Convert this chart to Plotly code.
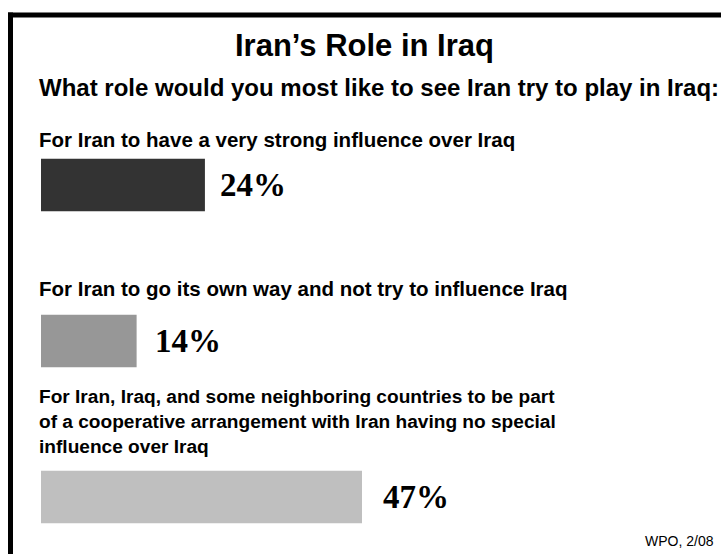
import plotly.graph_objects as go

# ---- data ----
categories = [
    "For Iran to have a very strong influence over Iraq",
    "For Iran to go its own way and not try to influence Iraq",
    "For Iran, Iraq, and some neighboring countries to be part<br>of a cooperative arrangement with Iran having no special<br>influence over Iraq",
]
values = [24, 14, 47]
value_labels = ["24%", "14%", "47%"]
title_text = "Iran\u2019s Role in Iraq"
subtitle_text = "What role would you most like to see Iran try to play in Iraq:"
source_text = "WPO, 2/08"

# ---- styles ----
bar_colors = ["#333333", "#979797", "#bfbfbf"]
W, H = 724, 554
FAM = "Liberation Sans, Arial, sans-serif"
label_sizes = [20.5, 20.5, 19.1]
pct_font = dict(family="Liberation Serif, Times New Roman, serif", size=33, color="#000000")
pct_xshift = [13, 16, 19]
cat_label_bottom_px = [153, 302, 459]  # pixel y of bottom of each label block

ids = list(range(len(categories)))

fig = go.Figure()
fig.add_trace(go.Bar(
    x=values, y=ids, orientation="h",
    marker=dict(color=bar_colors, line=dict(width=0)),
    width=0.335, hoverinfo="skip",
))

annotations = []
annotations.append(dict(text="<b>" + title_text + "</b>", xref="paper", yref="paper",
                        x=364 / W, y=1 - 45 / H, xanchor="center", yanchor="middle",
                        showarrow=False, font=dict(family=FAM, size=31, color="#000")))
annotations.append(dict(text="<b>" + subtitle_text + "</b>", xref="paper", yref="paper",
                        x=37 / W, y=1 - 87 / H, xanchor="left", yanchor="middle",
                        showarrow=False, font=dict(family=FAM, size=24, color="#000")))
annotations.append(dict(text=source_text, xref="paper", yref="paper",
                        x=716 / W, y=1 - 541 / H, xanchor="right", yanchor="middle",
                        showarrow=False, font=dict(family=FAM, size=14, color="#000")))
for i, c in enumerate(categories):
    annotations.append(dict(text="<b>" + c + "</b>", xref="paper", yref="paper",
                            x=37 / W, y=1 - cat_label_bottom_px[i] / H,
                            xanchor="left", yanchor="bottom", align="left",
                            showarrow=False,
                            font=dict(family=FAM, size=label_sizes[i], color="#000")))
for i, (v, t) in enumerate(zip(values, value_labels)):
    annotations.append(dict(text="<b>" + t + "</b>", x=v, y=i, xref="x", yref="y",
                            xanchor="left", yanchor="middle", xshift=pct_xshift[i],
                            showarrow=False, font=pct_font))

border = dict(color="#000000", width=5)
fig.update_layout(
    width=W, height=H,
    margin=dict(l=0, r=0, t=0, b=0),
    paper_bgcolor="#ffffff", plot_bgcolor="#ffffff",
    showlegend=False,
    xaxis=dict(domain=[41 / W, 1], range=[0, 100], visible=False, fixedrange=True),
    yaxis=dict(range=[2 + (H - 497) / 156, -185 / 156], visible=False, fixedrange=True),
    annotations=annotations,
    shapes=[
        dict(type="line", xref="paper", yref="paper",
             x0=10.5 / W, x1=10.5 / W, y0=0, y1=1 - 12.5 / H, line=border, layer="above"),
        dict(type="line", xref="paper", yref="paper",
             x0=8 / W, x1=721 / W, y0=1 - 15 / H, y1=1 - 15 / H, line=border, layer="above"),
    ],
)

js = ("document.documentElement.style.overflow='hidden';"
      "document.documentElement.style.margin='0';"
      "document.body.style.margin='0';document.body.style.padding='0';"
      "document.body.style.overflow='hidden';")
fig.write_html("out.html", config={"displayModeBar": False}, post_script=js)
